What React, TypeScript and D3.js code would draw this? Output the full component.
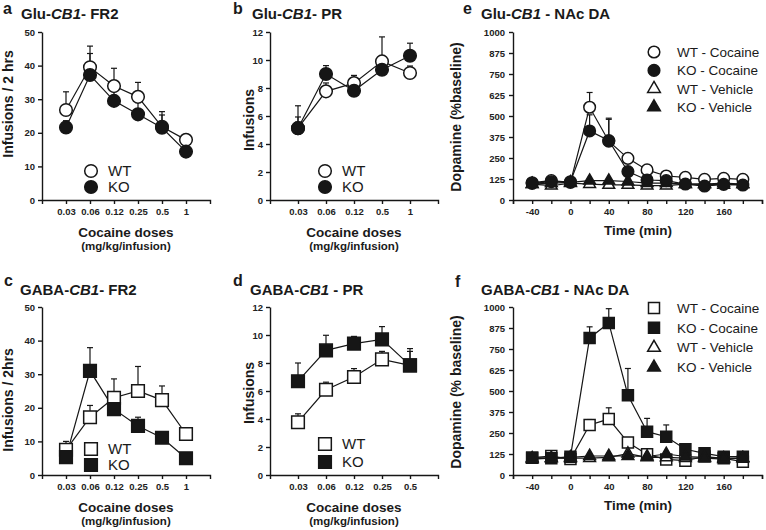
import { useRef, useEffect } from "react";
import * as d3 from "d3";

// dose categories
const dosesFR2 = ["0.03", "0.06", "0.12", "0.25", "0.5", "1"];
const dosesGluPR = ["0.03", "0.06", "0.12", "0.5", "1"];
const dosesGabaPR = ["0.03", "0.06", "0.12", "0.25", "0.5"];

// a: Glu-CB1 FR2
const gluFr2WT = [26.8, 39.5, 33.9, 30.7, 21.8, 17.9];
const gluFr2WTErr = [5.4, 6.3, 5.3, 4.3, 4.5, 1.1];
const gluFr2KO = [21.6, 37.2, 29.5, 25.5, 21.5, 14.4];
const gluFr2KOErr = [2, 6.4, 3, 3.5, 3.8, 1];

// b: Glu-CB1 PR
const gluPrWT = [5.13, 7.76, 8.35, 9.9, 9.07];
const gluPrWTErr = [0.8, 0.6, 0.55, 1.75, 0.5];
const gluPrKO = [5.13, 9.0, 7.8, 9.3, 10.3];
const gluPrKOErr = [1.6, 0.6, 0.4, 0.4, 0.9];

// c: GABA-CB1 FR2
const gabaFr2WT = [7.5, 17.2, 23.0, 25.0, 22.3, 12.2];
const gabaFr2WTErr = [2.5, 3.5, 5.6, 7.3, 4.2, 1.8];
const gabaFr2KO = [5.3, 31.0, 19.6, 14.6, 11.1, 5.0];
const gabaFr2KOErr = [1, 6.9, 1.4, 2.6, 1.6, 0.5];

// d: GABA-CB1 PR
const gabaPrWT = [3.77, 6.09, 7.0, 8.26, 7.83];
const gabaPrWTErr = [0.6, 0.54, 0.6, 0.57, 1.0];
const gabaPrKO = [6.7, 8.9, 9.38, 9.69, 7.83];
const gabaPrKOErr = [1.3, 1.08, 0.52, 0.91, 1.2];

// e, f: microdialysis
const times = [-40, -20, 0, 20, 40, 60, 80, 100, 120, 140, 160, 180];
const gluDaWTCoc = [103, 115, 105, 552, 350, 248, 179, 143, 135, 123, 129, 123];
const gluDaWTCocErr = [8, 8, 8, 88, 130, 12, 10, 8, 8, 8, 8, 8];
const gluDaKOCoc = [99, 109, 109, 411, 354, 169, 119, 115, 95, 83, 93, 89];
const gluDaKOCocErr = [8, 8, 8, 96, 133, 15, 10, 8, 8, 8, 8, 8];
const gluDaWTVeh = [95, 85, 100, 95, 90, 90, 85, 85, 95, 95, 100, 95];
const gluDaKOVeh = [95, 100, 105, 115, 115, 110, 100, 100, 95, 95, 90, 95];

const gabaDaWTCoc = [103, 113, 95, 298, 333, 194, 123, 93, 85, 110, 99, 79];
const gabaDaWTCocErr = [5, 20, 5, 32, 67, 10, 5, 5, 5, 5, 5, 5];
const gabaDaKOCoc = [103, 99, 109, 816, 905, 475, 258, 228, 153, 129, 109, 109];
const gabaDaKOCocErr = [5, 10, 5, 66, 85, 159, 79, 70, 15, 10, 10, 10];
const gabaDaWTVeh = [95, 100, 100, 100, 105, 127, 105, 105, 100, 100, 95, 100];
const gabaDaKOVeh = [100, 100, 105, 113, 113, 113, 110, 125, 110, 105, 100, 100];

// ticks
const fr2Ticks = [0, 10, 20, 30, 40, 50];
const prTicks = [0, 2, 4, 6, 8, 10, 12];
const daTicks = [0, 125, 250, 375, 500, 625, 750, 875, 1000];
const timeTickLabels = [-40, 0, 40, 80, 120, 160];

const FONT = "'Liberation Sans', Arial, sans-serif";
const INK = "#161616";

export default function App() {
  const ref = useRef<SVGSVGElement>(null);

  useEffect(() => {
    const svg = d3.select(ref.current);
    svg.selectAll("*").remove();

    const styleAxis = (g: any) => {
      g.select(".domain").attr("stroke", INK).attr("stroke-width", 1.4);
      g.selectAll(".tick line").attr("stroke", INK).attr("stroke-width", 1.4);
      g.selectAll(".tick text")
        .attr("fill", "#222")
        .style("font-family", FONT)
        .style("font-size", "9.5px")
        .style("font-weight", "bold");
    };

    const text = (x: number, y: number, t: string, size: number, weight = "bold", anchor = "start") =>
      svg
        .append("text")
        .attr("x", x)
        .attr("y", y)
        .attr("text-anchor", anchor)
        .attr("fill", "#1a1a1a")
        .style("font-family", FONT)
        .style("font-size", size + "px")
        .style("font-weight", weight)
        .text(t);

    const title = (x: number, y: number, parts: string[]) => {
      const t = svg
        .append("text")
        .attr("x", x)
        .attr("y", y)
        .attr("fill", "#1a1a1a")
        .style("font-family", FONT)
        .style("font-size", "15px")
        .style("font-weight", "bold");
      t.append("tspan").text(parts[0]);
      t.append("tspan").style("font-style", "italic").text(parts[1]);
      t.append("tspan").text(parts[2]);
    };

    const yLabel = (x: number, y: number, t: string) =>
      svg
        .append("text")
        .attr("transform", `translate(${x},${y}) rotate(-90)`)
        .attr("text-anchor", "middle")
        .attr("fill", "#1a1a1a")
        .style("font-family", FONT)
        .style("font-size", "14px")
        .style("font-weight", "bold")
        .text(t);

    const marker = (shape: string, size: number) => {
      const type =
        shape === "circle" ? d3.symbolCircle : shape === "square" ? d3.symbolSquare : d3.symbolTriangle;
      return d3.symbol().type(type).size(size)() as string;
    };

    const drawSeries = (x: (v: any) => number, y: d3.ScaleLinear<number, number>, keys: any[], list: any[]) => {
      // lines and error bars first
      list.forEach((s) => {
        const line = d3
          .line<number>()
          .x((d, i) => x(keys[i]))
          .y((d) => y(d));
        svg.append("path").attr("d", line(s.values)).attr("fill", "none").attr("stroke", INK).attr("stroke-width", 1.2);
        if (s.err) {
          s.values.forEach((v: number, i: number) => {
            const cx = x(keys[i]);
            const top = y(v + s.err[i]);
            svg.append("line").attr("x1", cx).attr("x2", cx).attr("y1", y(v)).attr("y2", top).attr("stroke", INK).attr("stroke-width", 1.2);
            svg.append("line").attr("x1", cx - 3).attr("x2", cx + 3).attr("y1", top).attr("y2", top).attr("stroke", INK).attr("stroke-width", 1.2);
          });
        }
      });
      list.forEach((s) => {
        svg
          .append("g")
          .selectAll("path")
          .data(s.values)
          .join("path")
          .attr("d", marker(s.shape, s.size))
          .attr("transform", (d: any, i: number) => `translate(${x(keys[i])},${y(d)})`)
          .attr("fill", s.filled ? INK : "#fff")
          .attr("stroke", INK)
          .attr("stroke-width", 1.5);
      });
    };

    const legend = (x: number, y: number, step: number, tx: number, size: number, list: any[]) => {
      list.forEach((s, i) => {
        svg
          .append("path")
          .attr("d", marker(s.shape, s.legendSize || s.size))
          .attr("transform", `translate(${x},${y + i * step})`)
          .attr("fill", s.filled ? INK : "#fff")
          .attr("stroke", INK)
          .attr("stroke-width", 1.5);
        text(tx, y + i * step + size * 0.36, s.label, size, "normal");
      });
    };

    // dose-response panels
    const dosePanel = (p: any) => {
      const x = d3.scalePoint<string>().domain(p.doses).range([p.x0, p.x1]).padding(1);
      const y = d3.scaleLinear().domain([0, p.yMax]).range([p.y0, p.y1]);
      svg
        .append("g")
        .attr("transform", `translate(0,${p.y0})`)
        .call(d3.axisBottom(x).tickSize(4).tickSizeOuter(4).tickPadding(4))
        .call(styleAxis);
      svg
        .append("g")
        .attr("transform", `translate(${p.x0},0)`)
        .call(d3.axisLeft(y).tickValues(p.yTicks).tickFormat(d3.format("d")).tickSize(4).tickSizeOuter(0).tickPadding(3))
        .call(styleAxis);
      drawSeries((d) => x(d) as number, y, p.doses, p.series);
      text(p.letterX, p.letterY, p.letter, 16);
      title(p.titleX, p.titleY, p.title);
      yLabel(p.yLabelX, p.yLabelY, p.yLabel);
      const xc = (p.x0 + p.x1) / 2;
      text(xc, p.y0 + 37, "Cocaine doses", 13.5, "bold", "middle");
      text(xc, p.y0 + 50, "(mg/kg/infusion)", 11.5, "bold", "middle");
      legend(p.legendX, p.legendY, p.legendStep, p.legendX + 17, 15, p.series);
    };

    // microdialysis panels
    const daPanel = (p: any) => {
      const x = d3.scaleLinear().domain([-60, 200]).range([513, 762]);
      const y = d3.scaleLinear().domain([0, 1000]).range([p.y0, p.y1]);
      svg
        .append("g")
        .attr("transform", `translate(0,${p.y0})`)
        .call(
          d3
            .axisBottom(x)
            .tickValues(d3.range(-60, 201, 20))
            .tickFormat((d: any) => (timeTickLabels.includes(d) ? String(d) : ""))
            .tickSize(4)
            .tickSizeOuter(4)
            .tickPadding(4)
        )
        .call(styleAxis);
      svg
        .append("g")
        .attr("transform", `translate(513,0)`)
        .call(d3.axisLeft(y).tickValues(daTicks).tickFormat(d3.format("d")).tickSize(4).tickSizeOuter(0).tickPadding(4))
        .call(styleAxis);
      drawSeries((d) => x(d), y, times, p.series);
      text(p.letterX, p.letterY, p.letter, 16);
      title(481, p.titleY, p.title);
      yLabel(461, p.yLabelY, p.yLabel);
      text(638, p.y0 + 35, "Time (min)", 13.5, "bold", "middle");
      legend(654, p.legendY, p.legendStep, 677, 13.5, p.legendOrder);
    };

    const circ = 125;
    const sq = 160;

    dosePanel({
      x0: 42, x1: 210, y0: 200, y1: 32, doses: dosesFR2, yMax: 50, yTicks: fr2Ticks,
      letter: "a", letterX: 3, letterY: 14, title: ["Glu-", "CB1", "- FR2"], titleX: 21, titleY: 19,
      yLabel: "Infusions / 2 hrs", yLabelX: 13, yLabelY: 104,
      legendX: 91, legendY: 171, legendStep: 16,
      series: [
        { values: gluFr2WT, err: gluFr2WTErr, shape: "circle", size: circ, filled: false, label: "WT" },
        { values: gluFr2KO, err: gluFr2KOErr, shape: "circle", size: circ, filled: true, label: "KO" },
      ],
    });

    dosePanel({
      x0: 270, x1: 438, y0: 200, y1: 32, doses: dosesGluPR, yMax: 12, yTicks: prTicks,
      letter: "b", letterX: 233, letterY: 14, title: ["Glu-", "CB1", "- PR"], titleX: 252, titleY: 19,
      yLabel: "Infusions", yLabelX: 254, yLabelY: 120,
      legendX: 325, legendY: 171, legendStep: 16,
      series: [
        { values: gluPrWT, err: gluPrWTErr, shape: "circle", size: circ, filled: false, label: "WT" },
        { values: gluPrKO, err: gluPrKOErr, shape: "circle", size: circ, filled: true, label: "KO" },
      ],
    });

    dosePanel({
      x0: 42, x1: 210, y0: 475, y1: 307, doses: dosesFR2, yMax: 50, yTicks: fr2Ticks,
      letter: "c", letterX: 4, letterY: 286, title: ["GABA-", "CB1", "- FR2"], titleX: 20, titleY: 295,
      yLabel: "Infusions / 2hrs", yLabelX: 13, yLabelY: 400,
      legendX: 91, legendY: 449, legendStep: 16,
      series: [
        { values: gabaFr2WT, err: gabaFr2WTErr, shape: "square", size: sq, filled: false, label: "WT" },
        { values: gabaFr2KO, err: gabaFr2KOErr, shape: "square", size: sq, filled: true, label: "KO" },
      ],
    });

    dosePanel({
      x0: 270, x1: 438, y0: 475, y1: 307, doses: dosesGabaPR, yMax: 12, yTicks: prTicks,
      letter: "d", letterX: 233, letterY: 286, title: ["GABA-", "CB1", " - PR"], titleX: 250, titleY: 295,
      yLabel: "Infusions", yLabelX: 254, yLabelY: 393,
      legendX: 325, legendY: 444, legendStep: 18,
      series: [
        { values: gabaPrWT, err: gabaPrWTErr, shape: "square", size: sq, filled: false, label: "WT" },
        { values: gabaPrKO, err: gabaPrKOErr, shape: "square", size: sq, filled: true, label: "KO" },
      ],
    });

    const eWTVeh = { values: gluDaWTVeh, shape: "triangle", size: 60, legendSize: 70, filled: false, label: "WT - Vehicle" };
    const eKOVeh = { values: gluDaKOVeh, shape: "triangle", size: 60, legendSize: 70, filled: true, label: "KO - Vehicle" };
    const eWTCoc = { values: gluDaWTCoc, err: gluDaWTCocErr, shape: "circle", size: 106, filled: false, label: "WT - Cocaine" };
    const eKOCoc = { values: gluDaKOCoc, err: gluDaKOCocErr, shape: "circle", size: 106, filled: true, label: "KO - Cocaine" };
    daPanel({
      y0: 200, y1: 32, letter: "e", letterX: 463, letterY: 14, title: ["Glu-", "CB1", " - NAc DA"], titleY: 19,
      yLabel: "Dopamine (%baseline)", yLabelY: 117, legendY: 52, legendStep: 18.4,
      series: [eWTVeh, eKOVeh, eWTCoc, eKOCoc],
      legendOrder: [eWTCoc, eKOCoc, eWTVeh, eKOVeh],
    });

    const fWTVeh = { values: gabaDaWTVeh, shape: "triangle", size: 60, legendSize: 70, filled: false, label: "WT - Vehicle" };
    const fKOVeh = { values: gabaDaKOVeh, shape: "triangle", size: 60, legendSize: 70, filled: true, label: "KO - Vehicle" };
    const fWTCoc = { values: gabaDaWTCoc, err: gabaDaWTCocErr, shape: "square", size: 121, filled: false, label: "WT - Cocaine" };
    const fKOCoc = { values: gabaDaKOCoc, err: gabaDaKOCocErr, shape: "square", size: 121, filled: true, label: "KO - Cocaine" };
    daPanel({
      y0: 475, y1: 307, letter: "f", letterX: 455, letterY: 287, title: ["GABA-", "CB1", " - NAc DA"], titleY: 295,
      yLabel: "Dopamine (% baseline)", yLabelY: 392, legendY: 308, legendStep: 19.8,
      series: [fWTCoc, fKOCoc, fWTVeh, fKOVeh],
      legendOrder: [fWTCoc, fKOCoc, fWTVeh, fKOVeh],
    });
  }, []);

  return (
    <svg
      ref={ref}
      width={766}
      height={530}
      style={{ position: "absolute", left: 0, top: 0, background: "#fff" }}
    />
  );
}
